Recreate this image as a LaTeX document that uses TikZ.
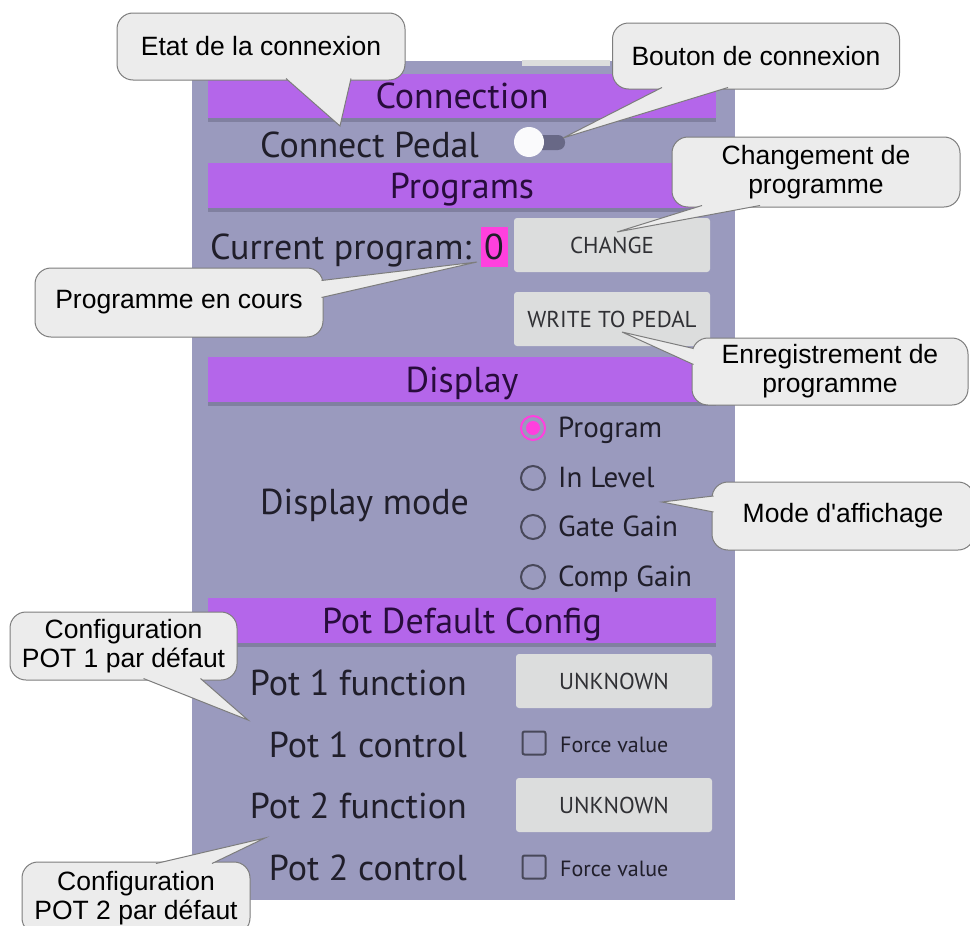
\documentclass[tikz,border=0pt]{standalone}
\RequirePackage{fontspec}
\setmainfont{Liberation Sans}
\newfontfamily\uifont{PT Sans}
\RequirePackage{xcolor}
\RequirePackage{tikz}
\usetikzlibrary{calc}
\definecolor{lavande}{RGB}{154, 154, 190}
\definecolor{ombrelav}{RGB}{128, 128, 160}
\definecolor{violet}{RGB}{180, 102, 234}
\definecolor{boutongris}{RGB}{220, 221, 221}
\definecolor{boutontexte}{RGB}{48, 48, 52}
\definecolor{rose}{RGB}{255, 64, 222}
\definecolor{grisfonce}{RGB}{72, 72, 90}
\definecolor{piste}{RGB}{104, 104, 134}
\definecolor{uitexte}{RGB}{32, 30, 42}
\definecolor{titretexte}{RGB}{40, 12, 60}
\definecolor{bullefond}{RGB}{236, 236, 236}
\definecolor{bullebord}{RGB}{125, 125, 125}

\begin{document}
\begin{tikzpicture}[x=1pt, y=-1pt,
        titre/.style={anchor=base, font=\uifont\fontsize{36}{40}\selectfont, text=titretexte, inner sep=0pt},
        etiq/.style={font=\uifont\fontsize{36}{40}\selectfont, text=uitexte, inner sep=0pt},
        choix/.style={anchor=base west, font=\uifont\fontsize{29}{32}\selectfont, text=uitexte, inner sep=0pt},
        petit/.style={anchor=base west, font=\uifont\fontsize{22}{25}\selectfont, text=uitexte, inner sep=0pt},
        bouton/.style={fill=boutongris, rounded corners=3pt, minimum width=196pt, minimum height=54pt, font=\uifont\fontsize{23}{26}\selectfont, text=boutontexte},
        radio/.style={circle, draw=grisfonce, line width=2pt, minimum size=24pt, inner sep=0pt},
        case/.style={draw=grisfonce, line width=2pt, rounded corners=2pt, minimum size=23pt, inner sep=0pt},
        bulle/.style={draw=bullebord, fill=bullefond, line width=1pt, rounded corners=16pt, align=center, inner sep=0pt, font=\fontsize{26.5}{29}\selectfont},
        pointe/.style={draw=bullebord, fill=bullefond, line width=1pt, line join=miter}]
            \useasboundingbox (0, 0) rectangle (970, 926);

            \fill[lavande] (192, 61) rectangle (735, 900);
            \fill[boutongris] (522, 60) rectangle (610, 66);

            \fill[ombrelav] (208, 118) rectangle (716, 122);
            \fill[violet] (208, 74) rectangle (716, 118);
            \node[titre] (connexion) at (462, 108) {Connection};

            \node[etiq, anchor=base west] (pedale) at (260, 157) {Connect Pedal};
            \fill[piste, rounded corners=7pt] (520, 135) rectangle (565, 150);
            \fill[white!95!lavande] (529, 142) circle (15pt);

            \fill[ombrelav] (208, 208) rectangle (716, 212);
            \fill[violet] (208, 163) rectangle (716, 208);
            \node[titre] (programmes) at (462, 198) {Programs};

            \node[etiq, anchor=base west] (courant) at (210, 259) {Current program:};
            \node[etiq, fill=rose, minimum width=27pt, minimum height=40pt] (numero) at (494, 247) {0};
            \node[bouton] (changer) at (612, 245) {CHANGE};
            \node[bouton] (ecrire) at (612, 319) {WRITE TO PEDAL};

            \fill[ombrelav] (208, 402) rectangle (716, 406);
            \fill[violet] (208, 357) rectangle (716, 402);
            \node[titre] (affichage) at (462, 392) {Display};

            \node[etiq, anchor=base west] (mode) at (260, 514) {Display mode};
            \node[radio, draw=rose] (r1) at (533, 428) {};
            \fill[rose] (r1) circle (7pt);
            \node[choix] at (558, 437) {Program};
            \node[radio] (r2) at (533, 478) {};
            \node[choix] at (558, 487) {In Level};
            \node[radio] (r3) at (533, 527) {};
            \node[choix] at (558, 536) {Gate Gain};
            \node[radio] (r4) at (533, 577) {};
            \node[choix] at (558, 586) {Comp Gain};

            \fill[ombrelav] (208, 643) rectangle (716, 647);
            \fill[violet] (208, 598) rectangle (716, 643);
            \node[titre] (potdefaut) at (462, 633) {Pot Default Config};

            \node[etiq, anchor=base east] (fonction1) at (467, 695) {Pot 1 function};
            \node[bouton] (inconnu1) at (614, 681) {UNKNOWN};
            \node[etiq, anchor=base east] (controle1) at (467, 757) {Pot 1 control};
            \node[case] (case1) at (534, 743) {};
            \node[petit] at (560, 752) {Force value};
            \node[etiq, anchor=base east] (fonction2) at (467, 818) {Pot 2 function};
            \node[bouton] (inconnu2) at (614, 805) {UNKNOWN};
            \node[etiq, anchor=base east] (controle2) at (467, 880) {Pot 2 control};
            \node[case] (case2) at (534, 867) {};
            \node[petit] at (560, 876) {Force value};

            \coordinate (pEtat) at (340, 126);
            \coordinate (pBouton) at (563, 138);
            \coordinate (pChange) at (617, 232);
            \coordinate (pCours) at (477, 262);
            \coordinate (pEcrire) at (622, 332);
            \coordinate (pMode) at (662, 502);
            \coordinate (pPot1) at (248, 720);
            \coordinate (pPot2) at (265, 838);

            \node[bulle, minimum width=288pt, minimum height=67pt] (etat) at (261, 46.5) {Etat de la connexion};
            \filldraw[pointe] ($(etat.south)+(25, -2)$) -- (pEtat) -- ($(etat.south)+(90, -2)$);
            \node[bulle, minimum width=287pt, minimum height=66pt] (interrupteur) at (756, 56) {Bouton de connexion};
            \filldraw[pointe] ($(interrupteur.south)+(-94, -2)$) -- (pBouton) -- ($(interrupteur.south)+(-28, -2)$);
            \node[bulle, minimum width=288pt, minimum height=70pt] (changement) at (816, 172) {Changement de\\programme};
            \filldraw[pointe] ($(changement.south)+(-114, -2)$) -- (pChange) -- ($(changement.south)+(-56, -2)$);
            \node[bulle, minimum width=288pt, minimum height=69pt] (encours) at (179, 302.5) {Programme en cours};
            \filldraw[pointe] ($(encours.east)+(-2, -22)$) -- (pCours) -- ($(encours.east)+(-2, -5)$);
            \node[bulle, minimum width=276pt, minimum height=67pt] (enregistrement) at (830, 371.5) {Enregistrement de\\programme};
            \filldraw[pointe] ($(enregistrement.west)+(2, -23)$) -- (pEcrire) -- ($(enregistrement.west)+(2, -7)$);
            \node[bulle, minimum width=262pt, minimum height=68pt] (modeaff) at (843, 516) {Mode d\textquotesingle affichage};
            \filldraw[pointe] ($(modeaff.west)+(2, -20)$) -- (pMode) -- ($(modeaff.west)+(2, -4)$);
            \node[bulle, minimum width=227pt, minimum height=68pt] (config1) at (123.5, 646) {Configuration\\POT 1 par défaut};
            \filldraw[pointe] ($(config1.south)+(20, -2)$) -- (pPot1) -- ($(config1.south)+(77, -2)$);
            \node[bulle, minimum width=228pt, minimum height=72pt] (config2) at (136, 898) {Configuration\\POT 2 par défaut};
            \filldraw[pointe] ($(config2.north)+(20, 2)$) -- (pPot2) -- ($(config2.north)+(76, 2)$);
        \end{tikzpicture}
\end{document}
